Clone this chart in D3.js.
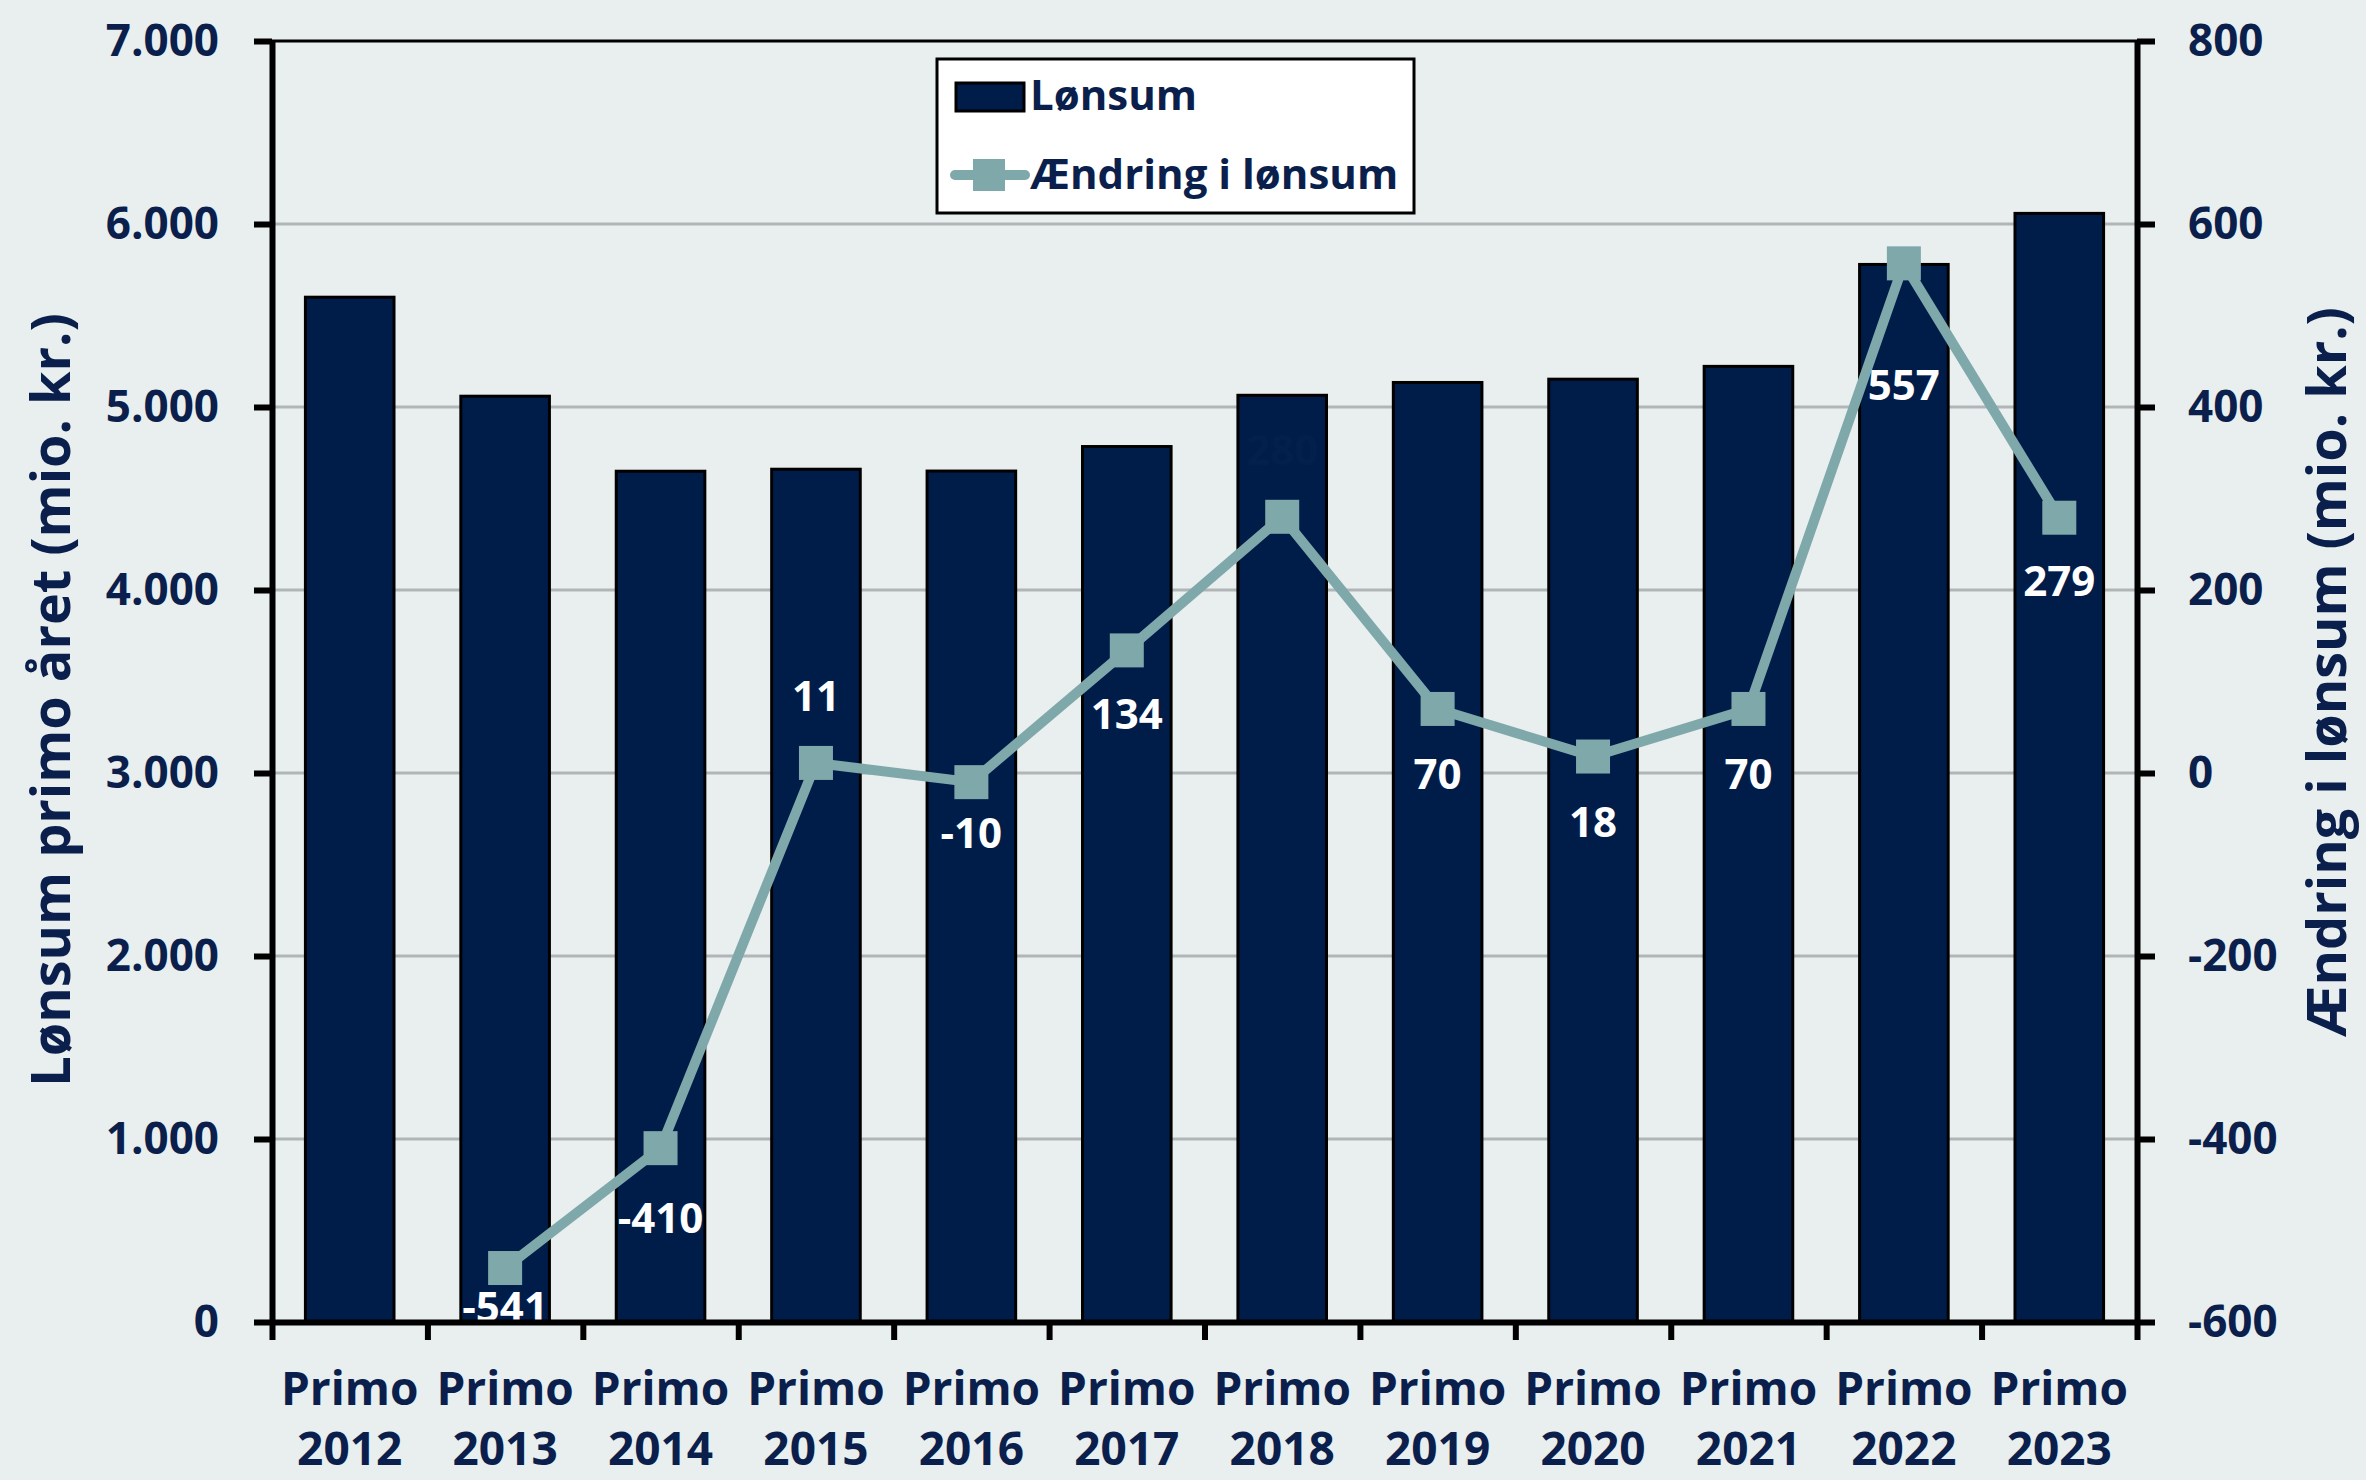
<!DOCTYPE html>
<html>
<head>
<meta charset="utf-8">
<script src="https://cdn.jsdelivr.net/npm/d3@7"></script>
<style>
  body { margin: 0; background: #e9eeee; }
  text { font-family: "Open Sans", sans-serif; font-weight: 700; }
</style>
</head>
<body>
<script>
// data
var years = ["2012", "2013", "2014", "2015", "2016", "2017", "2018", "2019", "2020", "2021", "2022", "2023"];
var lonsum = [5600, 5059, 4649, 4660, 4650, 4784, 5064, 5134, 5152, 5222, 5779, 6058];
var aendring = [null, -541, -410, 11, -10, 134, 280, 70, 18, 70, 557, 279];
var leftTicks = [0, 1000, 2000, 3000, 4000, 5000, 6000, 7000];
var rightTicks = [-600, -400, -200, 0, 200, 400, 600, 800];

var W = 2366, H = 1480;
var navy = "#001d4a", textNavy = "#0b1f4d", teal = "#7fa8ab";
var plotL = 272, plotR = 2137, plotT = 41, plotB = 1322;

var da = d3.formatLocale({decimal: ",", thousands: ".", grouping: [3], currency: ["", ""], minus: "-"});
var fmt = da.format(",");
var fmtInt = da.format("d");

var svg = d3.select("body").append("svg")
    .attr("width", W)
    .attr("height", H);

svg.append("rect").attr("width", W).attr("height", H).attr("fill", "#e9eeee");

var x = d3.scaleBand()
    .domain(years)
    .range([plotL, plotR])
    .paddingInner(0.43)
    .paddingOuter(0.215);

var xEdge = d3.scaleLinear().domain([0, years.length]).range([plotL, plotR]);

var y = d3.scaleLinear().domain([0, 7000]).range([plotB, plotT]);
var y2 = d3.scaleLinear().domain([-600, 800]).range([plotB, plotT]);

// gridlines
svg.append("g")
    .selectAll("line")
    .data(leftTicks.slice(1))
    .enter()
    .append("line")
    .attr("x1", plotL).attr("x2", plotR)
    .attr("y1", function(d) { return y(d); })
    .attr("y2", function(d) { return y(d); })
    .attr("stroke", function(d) { return d == 7000 ? "#000" : "#b1b5b7"; })
    .attr("stroke-width", 3);

// bars
svg.append("g")
    .selectAll("rect")
    .data(lonsum)
    .enter()
    .append("rect")
    .attr("x", function(d, i) { return x(years[i]); })
    .attr("y", function(d) { return y(d); })
    .attr("width", x.bandwidth())
    .attr("height", function(d) { return y(0) - y(d); })
    .attr("fill", navy)
    .attr("stroke", "#000")
    .attr("stroke-width", 3);

// line
var pts = aendring.map(function(d, i) { return {v: d, yr: years[i]}; })
    .filter(function(d) { return d.v !== null; });

var line = d3.line()
    .x(function(d) { return x(d.yr) + x.bandwidth() / 2; })
    .y(function(d) { return y2(d.v); });

svg.append("path")
    .datum(pts)
    .attr("d", line)
    .attr("fill", "none")
    .attr("stroke", teal)
    .attr("stroke-width", 10)
    .attr("stroke-linejoin", "round");

var ms = 34;
svg.append("g")
    .selectAll("rect")
    .data(pts)
    .enter()
    .append("rect")
    .attr("x", function(d) { return x(d.yr) + x.bandwidth() / 2 - ms / 2; })
    .attr("y", function(d) { return y2(d.v) - ms / 2; })
    .attr("width", ms)
    .attr("height", ms)
    .attr("fill", teal);

// data labels (offset from marker, as placed in the original)
// the 2018 label is dark on the dark bar, so it barely shows
var labelDy = [null, 54, 85, -52, 66, 79, -52, 80, 80, 80, 137, 78];
svg.append("g")
    .selectAll("text")
    .data(pts)
    .enter()
    .append("text")
    .attr("x", function(d) { return x(d.yr) + x.bandwidth() / 2; })
    .attr("y", function(d) { return y2(d.v) + labelDy[years.indexOf(d.yr)]; })
    .attr("text-anchor", "middle")
    .attr("font-size", 42)
    .attr("fill", function(d) { return d.yr == "2018" ? "#031f4c" : "#fff"; })
    .text(function(d) { return fmtInt(d.v); });

// axes
function styleAxis(g) {
  g.select(".domain").attr("stroke", "#000").attr("stroke-width", 6);
  g.selectAll(".tick line").attr("stroke", "#000").attr("stroke-width", 6);
  g.selectAll(".tick text").attr("fill", textNavy).attr("font-size", 44)
      .attr("font-family", "Open Sans").attr("font-weight", 700);
}

svg.append("g")
    .attr("transform", "translate(" + plotL + ",0)")
    .call(d3.axisLeft(y).tickValues(leftTicks).tickFormat(fmt).tickSize(18).tickSizeOuter(0).tickPadding(35))
    .call(styleAxis);

svg.append("g")
    .attr("transform", "translate(" + plotR + ",0)")
    .call(d3.axisRight(y2).tickValues(rightTicks).tickFormat(fmtInt).tickSize(18).tickSizeOuter(0).tickPadding(33))
    .call(styleAxis);

svg.append("g")
    .attr("transform", "translate(0," + plotB + ")")
    .call(d3.axisBottom(xEdge).tickValues(d3.range(years.length + 1)).tickFormat("").tickSize(18).tickSizeOuter(0))
    .call(styleAxis);

// category labels
var cat = svg.append("g")
    .selectAll("text")
    .data(years)
    .enter()
    .append("text")
    .attr("text-anchor", "middle")
    .attr("font-size", 46)
    .attr("fill", textNavy);
cat.append("tspan")
    .attr("x", function(d) { return x(d) + x.bandwidth() / 2; })
    .attr("y", 1405)
    .text("Primo");
cat.append("tspan")
    .attr("x", function(d) { return x(d) + x.bandwidth() / 2; })
    .attr("y", 1465)
    .text(function(d) { return d; });

// axis titles
svg.append("text")
    .attr("transform", "translate(70,700) rotate(-90)")
    .attr("text-anchor", "middle")
    .attr("font-size", 54)
    .attr("fill", textNavy)
    .text("Lønsum primo året (mio. kr.)");

svg.append("text")
    .attr("transform", "translate(2346,672) rotate(-90)")
    .attr("text-anchor", "middle")
    .attr("font-size", 54)
    .attr("fill", textNavy)
    .text("Ændring i lønsum (mio. kr.)");

// legend
var lg = svg.append("g");
lg.append("rect")
    .attr("x", 937).attr("y", 59)
    .attr("width", 477).attr("height", 154)
    .attr("fill", "#fff")
    .attr("stroke", "#000")
    .attr("stroke-width", 3);
lg.append("rect")
    .attr("x", 956).attr("y", 83)
    .attr("width", 68).attr("height", 28)
    .attr("fill", navy)
    .attr("stroke", "#000")
    .attr("stroke-width", 3);
lg.append("text")
    .attr("x", 1030).attr("y", 110)
    .attr("font-size", 42)
    .attr("fill", textNavy)
    .text("Lønsum");
lg.append("line")
    .attr("x1", 955).attr("x2", 1025)
    .attr("y1", 175).attr("y2", 175)
    .attr("stroke", teal)
    .attr("stroke-width", 10)
    .attr("stroke-linecap", "round");
lg.append("rect")
    .attr("x", 973).attr("y", 159)
    .attr("width", 32).attr("height", 32)
    .attr("fill", teal);
lg.append("text")
    .attr("x", 1030).attr("y", 189)
    .attr("font-size", 42)
    .attr("fill", textNavy)
    .text("Ændring i lønsum");
</script>
</body>
</html>
